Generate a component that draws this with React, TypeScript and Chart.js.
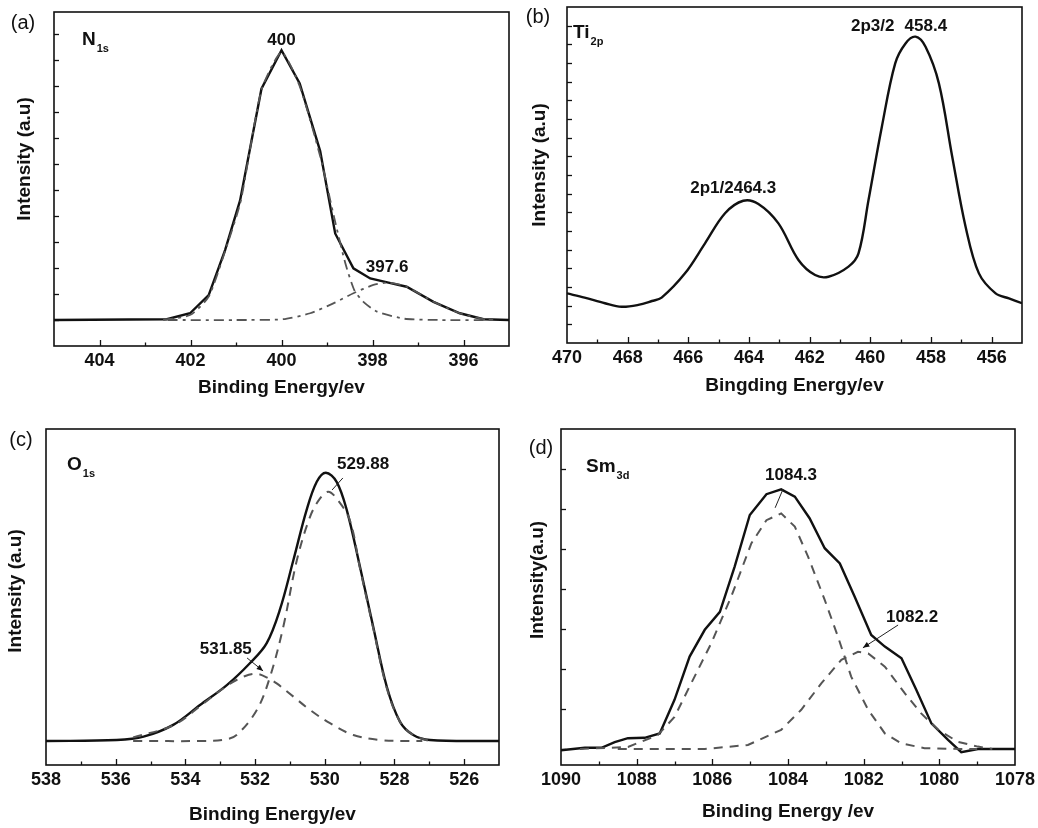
import React, { useEffect, useRef } from "react";
import { Chart, registerables } from "chart.js";

Chart.register(...registerables);

const FONT = "'Liberation Sans', Arial, Helvetica, sans-serif";
const W = 1038;
const H = 828;
const X_BAND = 30;

// ---------- (a) N1s ----------
const n1sEv = [405, 402.52, 402.01, 401.6, 401.24, 400.91, 400.44, 400.0, 399.6, 399.15, 398.82, 398.42, 398.05, 397.65, 397.25, 396.66, 396.08, 395.56, 395.0];
const n1sTotal = [1.0, 1.03, 1.26, 1.96, 3.69, 5.6, 9.9, 11.38, 10.1, 7.5, 4.33, 2.99, 2.6, 2.44, 2.28, 1.7, 1.26, 1.03, 1.0];
const n1sFit400Ev = [402.6, 402.0, 401.6, 401.24, 400.9, 400.44, 400.0, 399.6, 399.15, 398.85, 398.6, 398.4, 398.2, 397.9, 397.3, 396.5, 395.3];
const n1sFit400 = [1.0, 1.2, 1.9, 3.65, 5.55, 9.85, 11.3, 10.0, 7.3, 5.0, 3.2, 2.15, 1.7, 1.32, 1.05, 1.0, 1.0];
const n1sFit3976Ev = [402.5, 401.0, 399.96, 399.37, 398.86, 398.42, 397.98, 397.65, 397.25, 396.66, 396.08, 395.56, 395.3];
const n1sFit3976 = [1.0, 1.0, 1.03, 1.26, 1.64, 2.03, 2.35, 2.44, 2.28, 1.7, 1.26, 1.03, 1.0];
const n1sXTicks = [404, 402, 400, 398, 396];
const n1sYTicks = [1, 2, 3, 4, 5, 6, 7, 8, 9, 10, 11, 12];

// ---------- (b) Ti2p ----------
const ti2pEv = [470.0, 469.42, 468.75, 468.2, 467.65, 467.2, 466.88, 466.11, 465.45, 464.79, 464.19, 463.69, 463.03, 462.37, 461.82, 461.38, 460.72, 460.39, 460.06, 459.62, 459.18, 458.84, 458.51, 458.18, 457.74, 457.3, 456.86, 456.42, 455.87, 455.43, 455.0];
const ti2pIntensity = [2.66, 2.43, 2.13, 1.94, 2.04, 2.25, 2.43, 3.73, 5.34, 6.95, 7.62, 7.45, 6.41, 4.45, 3.64, 3.55, 4.09, 4.8, 7.66, 11.59, 14.98, 16.05, 16.41, 15.87, 13.91, 9.98, 6.23, 3.73, 2.66, 2.39, 2.13];
const ti2pXTicks = [470, 468, 466, 464, 462, 460, 458, 456];
const ti2pYTicks = [1, 2, 3, 4, 5, 6, 7, 8, 9, 10, 11, 12, 13, 14, 15, 16, 17];

// ---------- (c) O1s ----------
const o1sEv = [538, 535.97, 535.2, 534.35, 533.58, 532.81, 532.15, 531.67, 531.29, 530.9, 530.52, 530.23, 529.97, 529.66, 529.37, 528.99, 528.61, 528.22, 527.84, 527.46, 526.98, 525];
const o1sTotal = [0, 0.04, 0.18, 0.67, 1.5, 2.33, 3.24, 4.07, 5.46, 7.54, 9.63, 10.8, 11.18, 10.8, 9.63, 7.26, 4.76, 2.26, 0.8, 0.25, 0.04, 0];
const o1sFitAEv = [535.5, 533.5, 532.9, 532.53, 531.95, 531.57, 531.19, 530.8, 530.42, 530.14, 529.9, 529.66, 529.28, 528.99, 528.61, 528.22, 527.84, 527.46, 527.0];
const o1sFitA = [0, 0, 0.05, 0.25, 1.29, 2.68, 4.76, 7.54, 9.35, 10.1, 10.39, 10.1, 9.2, 7.2, 4.7, 2.2, 0.8, 0.25, 0];
const o1sFitBEv = [535.5, 534.35, 533.58, 532.81, 532.3, 531.95, 531.6, 531.38, 530.9, 530.42, 529.85, 529.18, 528.42, 527.56, 527.2];
const o1sFitB = [0.15, 0.65, 1.45, 2.3, 2.7, 2.8, 2.6, 2.4, 1.85, 1.29, 0.74, 0.25, 0.04, 0, 0];
const o1sXTicks = [538, 536, 534, 532, 530, 528, 526];
const o1sYTicks: number[] = [];

// ---------- (d) Sm3d ----------
const sm3dEv = [1090.0, 1089.37, 1088.93, 1088.58, 1088.23, 1087.79, 1087.39, 1087.0, 1086.6, 1086.2, 1085.8, 1085.41, 1085.01, 1084.57, 1084.18, 1083.82, 1083.43, 1083.03, 1082.63, 1082.24, 1081.8, 1081.44, 1081.0, 1080.61, 1080.21, 1079.77, 1079.42, 1078.98, 1078.0];
const sm3dTotal = [-0.03, 0.03, 0.03, 0.17, 0.27, 0.28, 0.39, 1.23, 2.31, 2.98, 3.43, 4.56, 5.85, 6.37, 6.49, 6.31, 5.77, 5.02, 4.64, 3.81, 2.85, 2.56, 2.27, 1.48, 0.64, 0.23, -0.08, 0, 0];
const sm3dFitAEv = [1089.5, 1088.23, 1087.44, 1087.0, 1086.56, 1086.03, 1085.5, 1084.97, 1084.57, 1084.18, 1083.82, 1083.47, 1083.03, 1082.68, 1082.33, 1081.88, 1081.44, 1081.0, 1080.39, 1079.42, 1079.0];
const sm3dFitA = [0, 0.05, 0.35, 0.8, 1.64, 2.64, 3.81, 5.14, 5.72, 5.89, 5.56, 4.81, 3.73, 2.81, 1.81, 0.98, 0.39, 0.14, 0.02, 0, 0];
const sm3dFitBEv = [1088.5, 1086.2, 1085.06, 1084.18, 1083.65, 1083.12, 1082.59, 1082.15, 1081.88, 1081.44, 1080.91, 1080.48, 1080.03, 1079.51, 1078.98, 1078.6];
const sm3dFitB = [0, 0, 0.1, 0.48, 0.98, 1.64, 2.23, 2.43, 2.39, 2.06, 1.39, 0.89, 0.48, 0.18, 0.06, 0];
const sm3dXTicks = [1090, 1088, 1086, 1084, 1082, 1080, 1078];
const sm3dYTicks = [0, 1, 2, 3, 4, 5, 6, 7];

// ---------- styles ----------
const SOLID = { color: "#111111", width: 2.4, dash: [] as number[] };
const DASHDOT = { color: "#555555", width: 1.8, dash: [10, 5, 3, 5] };
const DASHED = { color: "#555555", width: 2, dash: [9, 7] };

type Series = { ev: number[]; val: number[]; style: { color: string; width: number; dash: number[] }; tension: number };
type Note = { text: string; x: number; y: number };
type Arrow = { x1: number; y1: number; x2: number; y2: number; head: boolean };
type Panel = {
  area: { left: number; top: number; right: number; bottom: number };
  xMin: number; xMax: number; yMin: number; yMax: number;
  xTicks: number[]; yTicks: number[];
  series: Series[];
  letter: string; letterPos: { dx: number; dy: number };
  elem: string; sub: string; elemPos: { dx: number; dy: number };
  xTitle: string; xTitleDy: number;
  yTitle: string; yTitlePos: { dx: number; dy: number };
  notes: Note[]; arrows: Arrow[];
};

const panels: Panel[] = [
  {
    area: { left: 54, top: 12, right: 509, bottom: 346 },
    xMin: 395, xMax: 405, yMin: 0, yMax: 12.85,
    xTicks: n1sXTicks, yTicks: n1sYTicks,
    series: [
      { ev: n1sFit400Ev, val: n1sFit400, style: DASHDOT, tension: 0.2 },
      { ev: n1sFit3976Ev, val: n1sFit3976, style: DASHDOT, tension: 0.2 },
      { ev: n1sEv, val: n1sTotal, style: SOLID, tension: 0 },
    ],
    letter: "(a)", letterPos: { dx: -31, dy: 11 },
    elem: "N", sub: "1s", elemPos: { dx: 28, dy: 28 },
    xTitle: "Binding Energy/ev", xTitleDy: 42,
    yTitle: "Intensity (a.u)", yTitlePos: { dx: -29, dy: -20 },
    notes: [
      { text: "400", x: 400.0, y: 11.77 },
      { text: "397.6", x: 397.68, y: 3.04 },
    ],
    arrows: [],
  },
  {
    area: { left: 567, top: 7, right: 1022, bottom: 343 },
    xMin: 455, xMax: 470, yMin: 0, yMax: 18,
    xTicks: ti2pXTicks, yTicks: ti2pYTicks,
    series: [{ ev: ti2pEv, val: ti2pIntensity, style: SOLID, tension: 0.35 }],
    letter: "(b)", letterPos: { dx: -29, dy: 10 },
    elem: "Ti", sub: "2p", elemPos: { dx: 6, dy: 26 },
    xTitle: "Bingding Energy/ev", xTitleDy: 43,
    yTitle: "Intensity (a.u)", yTitlePos: { dx: -27, dy: -10 },
    notes: [
      { text: "2p3/2", x: 459.92, y: 16.98 },
      { text: "458.4", x: 458.17, y: 16.98 },
      { text: "2p1/2464.3", x: 464.52, y: 8.3 },
    ],
    arrows: [],
  },
  {
    area: { left: 46, top: 429, right: 499, bottom: 765 },
    xMin: 525, xMax: 538, yMin: -1, yMax: 13,
    xTicks: o1sXTicks, yTicks: o1sYTicks,
    series: [
      { ev: o1sFitAEv, val: o1sFitA, style: DASHED, tension: 0.35 },
      { ev: o1sFitBEv, val: o1sFitB, style: DASHED, tension: 0.35 },
      { ev: o1sEv, val: o1sTotal, style: SOLID, tension: 0.35 },
    ],
    letter: "(c)", letterPos: { dx: -25, dy: 11 },
    elem: "O", sub: "1s", elemPos: { dx: 21, dy: 36 },
    xTitle: "Binding Energy/ev", xTitleDy: 50,
    yTitle: "Intensity (a.u)", yTitlePos: { dx: -30, dy: -6 },
    notes: [
      { text: "529.88", x: 528.9, y: 11.54 },
      { text: "531.85", x: 532.84, y: 3.83 },
    ],
    arrows: [
      { x1: 529.48, y1: 10.96, x2: 529.79, y2: 10.46, head: false },
      { x1: 532.23, y1: 3.46, x2: 531.77, y2: 2.92, head: true },
    ],
  },
  {
    area: { left: 561, top: 429, right: 1015, bottom: 765 },
    xMin: 1078, xMax: 1090, yMin: -0.4, yMax: 8,
    xTicks: sm3dXTicks, yTicks: sm3dYTicks,
    series: [
      { ev: sm3dFitAEv, val: sm3dFitA, style: DASHED, tension: 0 },
      { ev: sm3dFitBEv, val: sm3dFitB, style: DASHED, tension: 0 },
      { ev: sm3dEv, val: sm3dTotal, style: SOLID, tension: 0 },
    ],
    letter: "(d)", letterPos: { dx: -20, dy: 19 },
    elem: "Sm", sub: "3d", elemPos: { dx: 25, dy: 38 },
    xTitle: "Binding Energy /ev", xTitleDy: 47,
    yTitle: "Intensity(a.u)", yTitlePos: { dx: -23, dy: -17 },
    notes: [
      { text: "1084.3", x: 1083.92, y: 6.85 },
      { text: "1082.2", x: 1080.72, y: 3.28 },
    ],
    arrows: [
      { x1: 1084.13, y1: 6.5, x2: 1084.34, y2: 6.03, head: false },
      { x1: 1081.09, y1: 3.1, x2: 1082.02, y2: 2.53, head: true },
    ],
  },
];

function makeDecor(p: Panel) {
  return {
    id: "decor",
    afterDraw(chart: any) {
      const ctx = chart.ctx as CanvasRenderingContext2D;
      const a = chart.chartArea;
      const xs = chart.scales.x;
      const ys = chart.scales.y;
      ctx.save();
      ctx.strokeStyle = "#111";
      ctx.fillStyle = "#111";
      // frame
      ctx.lineWidth = 1.6;
      ctx.setLineDash([]);
      ctx.strokeRect(a.left, a.top, a.right - a.left, a.bottom - a.top);
      // inward x ticks (major at labelled values, minor at every unit)
      ctx.lineWidth = 1.3;
      for (let v = Math.ceil(p.xMin); v <= Math.floor(p.xMax); v++) {
        if (v === p.xMin || v === p.xMax) continue;
        const major = p.xTicks.includes(v);
        const len = major ? 6 : 3.5;
        const px = Math.round(xs.getPixelForValue(v)) + 0.5;
        ctx.beginPath();
        ctx.moveTo(px, a.bottom);
        ctx.lineTo(px, a.bottom - len);
        ctx.stroke();
      }
      // inward y ticks
      for (const v of p.yTicks) {
        const py = Math.round(ys.getPixelForValue(v)) + 0.5;
        ctx.beginPath();
        ctx.moveTo(a.left, py);
        ctx.lineTo(a.left + 5, py);
        ctx.stroke();
      }
      // panel letter
      ctx.textAlign = "center";
      ctx.textBaseline = "middle";
      ctx.font = `20px ${FONT}`;
      ctx.fillText(p.letter, a.left + p.letterPos.dx, a.top + p.letterPos.dy);
      // element with subscript
      ctx.textAlign = "left";
      ctx.font = `bold 19px ${FONT}`;
      const ex = a.left + p.elemPos.dx;
      const ey = a.top + p.elemPos.dy;
      ctx.fillText(p.elem, ex, ey);
      const ew = ctx.measureText(p.elem).width;
      ctx.font = `bold 11px ${FONT}`;
      ctx.fillText(p.sub, ex + ew + 1, ey + 9);
      // axis titles
      ctx.textAlign = "center";
      ctx.font = `bold 19px ${FONT}`;
      ctx.fillText(p.xTitle, (a.left + a.right) / 2, a.bottom + p.xTitleDy);
      ctx.save();
      ctx.translate(a.left + p.yTitlePos.dx, (a.top + a.bottom) / 2 + p.yTitlePos.dy);
      ctx.rotate(-Math.PI / 2);
      ctx.fillText(p.yTitle, 0, 0);
      ctx.restore();
      // peak notes
      ctx.font = `bold 17px ${FONT}`;
      for (const n of p.notes) {
        ctx.fillText(n.text, xs.getPixelForValue(n.x), ys.getPixelForValue(n.y));
      }
      // leader lines / arrows
      ctx.lineWidth = 1;
      ctx.strokeStyle = "#222";
      for (const ar of p.arrows) {
        const x1 = xs.getPixelForValue(ar.x1);
        const y1 = ys.getPixelForValue(ar.y1);
        const x2 = xs.getPixelForValue(ar.x2);
        const y2 = ys.getPixelForValue(ar.y2);
        ctx.beginPath();
        ctx.moveTo(x1, y1);
        ctx.lineTo(x2, y2);
        ctx.stroke();
        if (ar.head) {
          const ang = Math.atan2(y2 - y1, x2 - x1);
          const hl = 7;
          ctx.beginPath();
          ctx.moveTo(x2, y2);
          ctx.lineTo(x2 - hl * Math.cos(ang - 0.4), y2 - hl * Math.sin(ang - 0.4));
          ctx.lineTo(x2 - hl * Math.cos(ang + 0.4), y2 - hl * Math.sin(ang + 0.4));
          ctx.closePath();
          ctx.fill();
        }
      }
      ctx.restore();
    },
  };
}

function PanelChart({ p }: { p: Panel }) {
  const ref = useRef<HTMLCanvasElement | null>(null);
  useEffect(() => {
    if (!ref.current) return;
    const datasets = p.series.map((s) => ({
      data: s.ev.map((e, i) => ({ x: e, y: s.val[i] })),
      borderColor: s.style.color,
      borderWidth: s.style.width,
      borderDash: s.style.dash,
      pointRadius: 0,
      fill: false,
      tension: s.tension,
    }));
    const chart = new Chart(ref.current, {
      type: "line",
      data: { datasets },
      options: {
        animation: false,
        responsive: false,
        devicePixelRatio: 1,
        layout: {
          padding: {
            left: p.area.left,
            top: p.area.top,
            right: W - p.area.right,
            bottom: H - p.area.bottom - X_BAND,
          },
        },
        plugins: { legend: { display: false }, tooltip: { enabled: false } },
        scales: {
          x: {
            type: "linear",
            reverse: true,
            min: p.xMin,
            max: p.xMax,
            grid: { display: false, drawTicks: false },
            border: { display: false },
            ticks: {
              autoSkip: false,
              maxRotation: 0,
              padding: 4,
              color: "#111",
              font: { family: FONT, size: 18, weight: "bold" },
              callback: (v: any) => String(v),
            },
            afterBuildTicks: (s: any) => {
              s.ticks = p.xTicks.map((v) => ({ value: v }));
            },
            afterFit: (s: any) => {
              s.height = X_BAND;
              s.paddingLeft = 0;
              s.paddingRight = 0;
            },
          },
          y: {
            type: "linear",
            display: false,
            min: p.yMin,
            max: p.yMax,
            afterFit: (s: any) => {
              s.width = 0;
              s.paddingTop = 0;
              s.paddingBottom = 0;
            },
          },
        },
      } as any,
      plugins: [makeDecor(p)],
    });
    return () => chart.destroy();
  }, [p]);
  return (
    <canvas
      ref={ref}
      width={W}
      height={H}
      style={{ position: "absolute", left: 0, top: 0, width: W, height: H }}
    />
  );
}

export default function App() {
  return (
    <div style={{ position: "absolute", left: 0, top: 0, width: W, height: H, background: "#fff", overflow: "hidden" }}>
      {panels.map((p, i) => (
        <PanelChart key={i} p={p} />
      ))}
    </div>
  );
}
